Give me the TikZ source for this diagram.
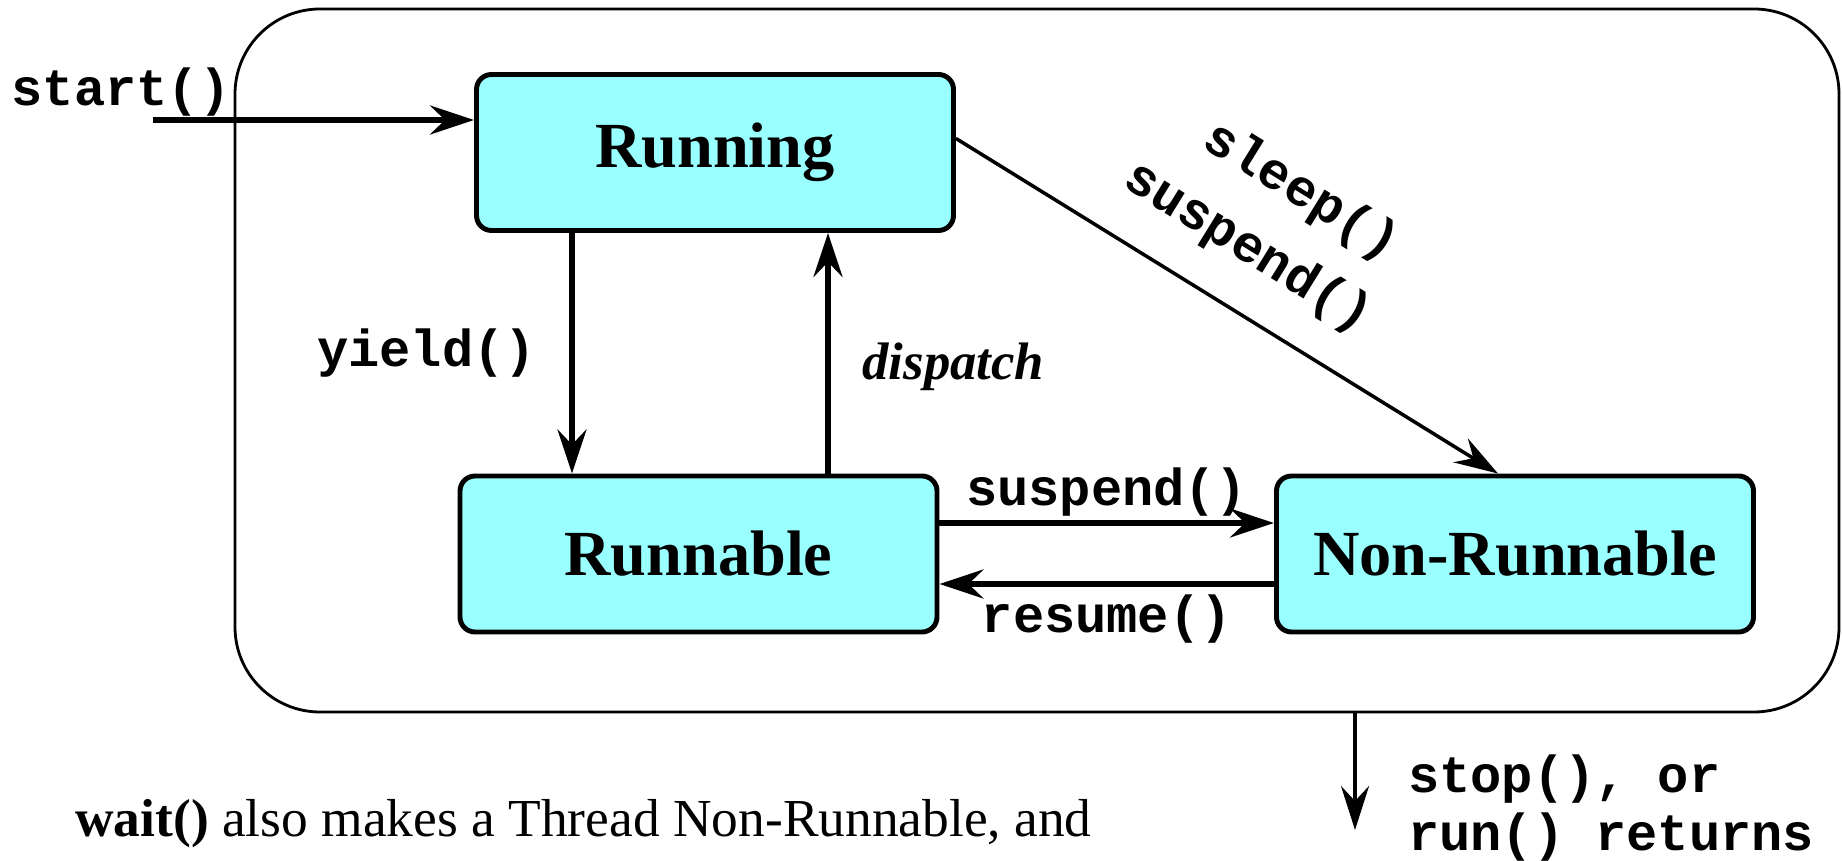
\documentclass[tikz,border=0pt]{standalone}
\usepackage{fontspec}
\setmainfont{Liberation Serif}
\setmonofont{Liberation Mono}
\usetikzlibrary{arrows.meta,positioning}
\definecolor{statecyan}{RGB}{153,255,255}
\begin{document}
\begin{tikzpicture}[
      state/.style={draw, line width=1.4pt, fill=statecyan, rounded corners=0.15cm,
        minimum width=4.77cm, minimum height=1.56cm, font=\fontsize{18.3}{20}\selectfont\bfseries},
      call/.style={font=\fontsize{14.8}{21.5}\selectfont\ttfamily\bfseries, inner sep=1pt},
      trans/.style={-{Stealth[length=4.4mm, width=2.9mm, inset=1.5mm]}, line width=1.6pt},
      thin trans/.style={-{Stealth[length=4.4mm, width=2.8mm, inset=1.5mm]}, line width=1pt}]
      \useasboundingbox (0,0) rectangle (18.42,-8.61);
      \node (frame) [draw, line width=0.8pt, rounded corners=0.85cm,
        minimum width=16.04cm, minimum height=7.03cm] at (10.37,-3.605) {};
      \node (running) [state] at (7.15,-1.525) {Running};
      \node (runnable) [state] at (6.985,-5.54) {Runnable};
      \node (nonrun) [state] at (15.15,-5.54) {Non-Runnable};
      \coordinate (startpt) at (1.53,-1.20);
      \coordinate (yieldx) at (5.72,0);
      \coordinate (dispx) at (8.28,0);
      \coordinate (exitx) at (13.55,0);
      \coordinate (exitend) at (13.55,-8.30);
      \node (startlbl) [call, anchor=base] at (1.21,-1.06) {start()};
      \draw[trans] (startpt) -- (startpt -| running.west);
      \draw[trans] (running.south -| yieldx) --
        node[call, left=0.3cm] {yield()} (runnable.north -| yieldx);
      \draw[trans] (runnable.north -| dispx) --
        node[right=0.2cm, yshift=-0.14cm, font=\fontsize{15}{18}\selectfont\bfseries\itshape] {dispatch}
        (running.south -| dispx);
      \draw[thin trans] ([yshift=0.14cm]running.east) --
        node[call, pos=0.48, sloped, yshift=0.98cm, align=center] {\hspace*{0.6em}sleep()\\suspend()}
        ([xshift=-0.17cm]nonrun.north);
      \draw[trans] ([yshift=0.31cm]runnable.east) --
        node[call, above=0cm] {suspend()} ([yshift=0.31cm]nonrun.west);
      \draw[trans] ([yshift=-0.30cm]nonrun.west) --
        node[call, below=0.04cm] {resume()} ([yshift=-0.30cm]runnable.east);
      \draw[thin trans] (frame.south -| exitx) -- (exitend);
      \node (stoplbl) [call, anchor=base west] at (14.04,-7.92) {stop(), or};
      \node (returnlbl) [call, anchor=base west] at (14.04,-8.50) {run() returns};
      \node (waitnote) [anchor=base west, font=\fontsize{15.2}{18}\selectfont] at (0.63,-8.36)
        {\textbf{wait()} also makes a Thread Non-Runnable, and};
\end{tikzpicture}
\end{document}
